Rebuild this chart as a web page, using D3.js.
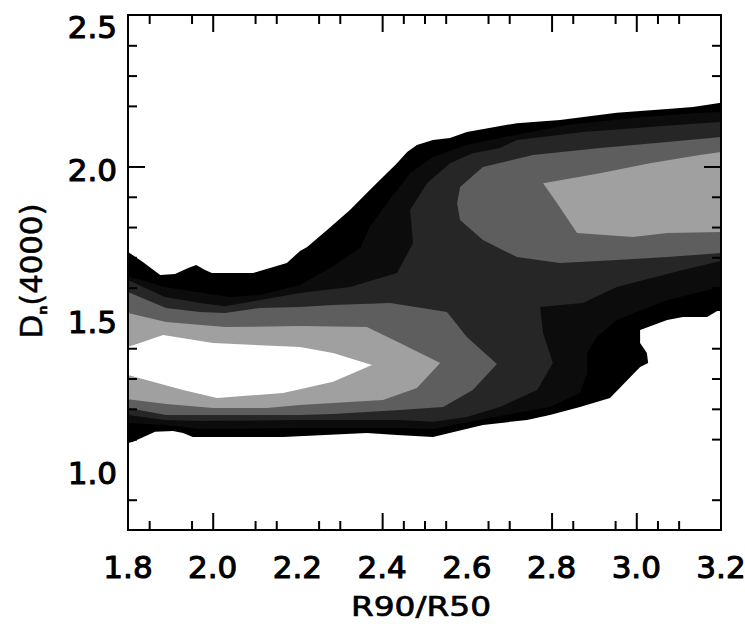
<!DOCTYPE html>
<html>
<head>
<meta charset="utf-8">
<script src="https://cdn.jsdelivr.net/npm/d3@7"></script>
<style>
  html, body { margin: 0; padding: 0; background: #fff; }
  svg { display: block; }
</style>
</head>
<body>
<svg id="chart" width="745" height="624"></svg>
<script>
// ---------------- data ----------------
const xDomain = [1.8, 3.2];
const yDomain = [0.8, 2.5];

const xLabelValues = [1.8, 2.0, 2.2, 2.4, 2.6, 2.8, 3.0, 3.2];
const yLabelValues = [1.0, 1.5, 2.0, 2.5];

const xMajorTicks = [2.0, 2.4, 2.8, 3.0];
const xMinorTicks = [1.85, 1.95, 2.1, 2.15, 2.25, 2.3, 2.45, 2.5, 2.55, 2.65, 2.7, 2.85, 2.95, 3.05, 3.1];
const yMajorTicks = [2.0];
const yMinorTicks = [2.4, 2.3, 2.2, 1.9, 1.8, 1.7, 1.6, 1.4, 1.3, 1.2, 1.1, 0.9];

const xTitle = "R90/R50";

// contour levels, lowest (outermost) first; each is a list of [R90/R50, Dn(4000)] outlines
const levelColors = ["#000000", "#0c0c0c", "#262626", "#5e5e5e", "#a0a0a0", "#ffffff"];

const level1 = [[
  [1.800,1.718],[1.835,1.685],[1.876,1.642],[1.911,1.645],[1.942,1.665],[1.961,1.675],[1.982,1.658],[1.998,1.648],
  [2.095,1.648],[2.175,1.681],[2.206,1.721],[2.223,1.734],[2.270,1.790],[2.324,1.856],[2.378,1.932],[2.435,2.011],
  [2.459,2.048],[2.482,2.071],[2.520,2.087],[2.560,2.094],[2.600,2.114],[2.718,2.143],[2.820,2.153],[2.954,2.177],
  [3.073,2.190],[3.134,2.196],[3.200,2.210],[3.200,1.523],[3.191,1.523],[3.167,1.503],[3.110,1.503],[3.073,1.493],
  [3.009,1.460],[3.009,1.417],[3.025,1.384],[3.028,1.351],[3.009,1.338],[2.938,1.236],[2.867,1.206],[2.796,1.180],
  [2.742,1.163],[2.638,1.147],[2.520,1.107],[2.435,1.114],[2.364,1.120],[2.166,1.107],[1.953,1.107],[1.930,1.120],
  [1.906,1.127],[1.864,1.124],[1.812,1.091],[1.800,1.087]
]];

const level2 = [[
  [1.800,1.638],[1.887,1.602],[1.977,1.582],[2.041,1.569],[2.112,1.576],[2.206,1.609],[2.284,1.671],[2.348,1.731],
  [2.371,1.800],[2.411,1.879],[2.466,1.978],[2.520,2.031],[2.600,2.071],[2.678,2.094],[2.836,2.137],[2.992,2.160],
  [3.150,2.177],[3.200,2.180],[3.200,1.602],[3.073,1.559],[2.954,1.493],[2.907,1.437],[2.884,1.384],[2.884,1.318],
  [2.867,1.252],[2.796,1.206],[2.678,1.176],[2.520,1.133],[2.442,1.137],[2.206,1.137],[1.970,1.133],[1.887,1.147],
  [1.800,1.153]
]];

const level3 = [[
  [1.800,1.625],[1.887,1.569],[1.970,1.549],[2.029,1.539],[2.112,1.559],[2.206,1.582],[2.324,1.602],[2.435,1.648],
  [2.473,1.747],[2.466,1.856],[2.506,1.945],[2.560,2.011],[2.614,2.044],[2.678,2.061],[2.718,2.087],[2.874,2.114],
  [3.032,2.130],[3.150,2.143],[3.200,2.147],[3.200,1.688],[3.110,1.658],[2.954,1.602],[2.874,1.549],[2.773,1.536],
  [2.780,1.450],[2.803,1.351],[2.766,1.262],[2.678,1.206],[2.600,1.173],[2.520,1.157],[2.442,1.163],[2.206,1.163],
  [1.970,1.160],[1.887,1.163],[1.800,1.180]
]];

const level4 = [
  [
    [1.800,1.586],[1.890,1.533],[1.970,1.520],[2.029,1.516],[2.112,1.533],[2.206,1.536],[2.284,1.543],[2.419,1.549],
    [2.553,1.520],[2.600,1.437],[2.671,1.348],[2.614,1.262],[2.544,1.206],[2.442,1.196],[2.284,1.183],[2.206,1.180],
    [1.970,1.180],[1.890,1.180],[1.800,1.203]
  ],
  [
    [2.584,1.932],[2.638,1.998],[2.756,2.038],[2.914,2.061],[3.073,2.081],[3.200,2.097],[3.200,1.714],[3.073,1.701],
    [2.954,1.691],[2.820,1.681],[2.718,1.701],[2.638,1.757],[2.584,1.823],[2.577,1.879]
  ]
];

const level5 = [
  [
    [1.800,1.516],[1.890,1.487],[2.029,1.470],[2.206,1.473],[2.364,1.470],[2.442,1.417],[2.537,1.351],[2.482,1.269],
    [2.402,1.229],[2.284,1.219],[2.206,1.213],[2.128,1.203],[2.001,1.203],[1.890,1.216],[1.800,1.232]
  ],
  [
    [2.780,1.945],[2.914,1.978],[3.032,2.011],[3.150,2.038],[3.200,2.048],[3.200,1.784],[3.073,1.780],[2.992,1.767],
    [2.860,1.780],[2.813,1.879]
  ]
];

const level6 = [[
  [1.800,1.404],[1.883,1.444],[2.001,1.417],[2.206,1.404],[2.284,1.384],[2.376,1.345],[2.284,1.289],[2.206,1.265],
  [2.166,1.252],[2.010,1.236],[1.930,1.262],[1.800,1.312]
]];

const levels = [level1, level2, level3, level4, level5, level6];

// ---------------- drawing ----------------
const svg = d3.select("#chart");
const plot = { left: 128, right: 721, top: 15, bottom: 530 };

const x = d3.scaleLinear().domain(xDomain).range([plot.left, plot.right]);
const y = d3.scaleLinear().domain(yDomain).range([plot.bottom, plot.top]);

svg.append("defs").append("clipPath").attr("id", "plotClip")
  .append("rect")
  .attr("x", plot.left).attr("y", plot.top)
  .attr("width", plot.right - plot.left).attr("height", plot.bottom - plot.top);

const line = d3.line().x(d => x(d[0])).y(d => y(d[1]));

const gContours = svg.append("g").attr("clip-path", "url(#plotClip)");
levels.forEach((polys, i) => {
  gContours.selectAll(null)
    .data(polys)
    .join("path")
    .attr("d", d => line(d) + "Z")
    .attr("fill", levelColors[i])
    .attr("stroke", "none");
});

// ticks (inward, all four sides)
function tickAxis(axisFn, values, size, transform) {
  const g = svg.append("g")
    .attr("transform", transform)
    .call(axisFn.tickValues(values).tickSize(-size).tickFormat(""));
  g.select(".domain").remove();
  g.selectAll(".tick line").attr("stroke", "#000").attr("stroke-width", 2);
  g.selectAll(".tick text").remove();
}
tickAxis(d3.axisBottom(x), xMajorTicks, 17, `translate(0,${plot.bottom})`);
tickAxis(d3.axisBottom(x), xMinorTicks, 9, `translate(0,${plot.bottom})`);
tickAxis(d3.axisTop(x), xMajorTicks, 17, `translate(0,${plot.top})`);
tickAxis(d3.axisTop(x), xMinorTicks, 9, `translate(0,${plot.top})`);
tickAxis(d3.axisLeft(y), yMajorTicks, 17, `translate(${plot.left},0)`);
tickAxis(d3.axisLeft(y), yMinorTicks, 9, `translate(${plot.left},0)`);
tickAxis(d3.axisRight(y), yMajorTicks, 17, `translate(${plot.right},0)`);
tickAxis(d3.axisRight(y), yMinorTicks, 9, `translate(${plot.right},0)`);

// frame
svg.append("rect")
  .attr("x", plot.left).attr("y", plot.top)
  .attr("width", plot.right - plot.left).attr("height", plot.bottom - plot.top)
  .attr("fill", "none").attr("stroke", "#000").attr("stroke-width", 2);

const fmt = d3.format(".1f");
const labelFont = "'DejaVu Sans', 'Liberation Sans', sans-serif";

function styleText(sel, size, strokeW) {
  return sel.attr("font-family", labelFont)
    .attr("font-size", size)
    .attr("fill", "#000")
    .attr("stroke", "#000")
    .attr("stroke-width", strokeW)
    .attr("stroke-linejoin", "round");
}

// x tick labels
styleText(svg.append("g").selectAll("text")
  .data(xLabelValues)
  .join("text")
  .attr("x", d => x(d))
  .attr("y", 578)
  .attr("text-anchor", "middle")
  .text(d => fmt(d)), 31, 1.1);

// y tick labels
styleText(svg.append("g").selectAll("text")
  .data(yLabelValues)
  .join("text")
  .attr("x", 117)
  .attr("y", d => Math.max(y(d) + 15, 38))
  .attr("text-anchor", "end")
  .text(d => fmt(d)), 31, 1.1);

// x title
styleText(svg.append("text")
  .attr("x", 421)
  .attr("y", 616)
  .attr("text-anchor", "middle")
  .attr("textLength", 140)
  .attr("lengthAdjust", "spacingAndGlyphs")
  .text(xTitle), 27, 0.7);

// y title: D_n(4000)
const yt = styleText(svg.append("text")
  .attr("transform", "translate(42,271) rotate(-90)")
  .attr("text-anchor", "middle")
  .attr("textLength", 135)
  .attr("lengthAdjust", "spacing"), 31, 0.5);
yt.append("tspan").text("D");
yt.append("tspan").attr("font-size", 13).attr("font-weight", "bold").attr("dy", 5).text("n");
yt.append("tspan").attr("dy", -5).text("(4000)");
</script>
</body>
</html>
